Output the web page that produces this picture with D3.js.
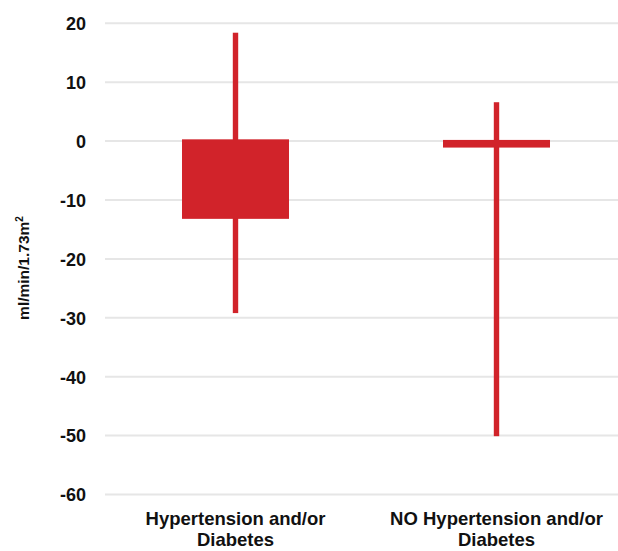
<!DOCTYPE html>
<html>
<head>
<meta charset="utf-8">
<script src="https://cdn.jsdelivr.net/npm/d3@7"></script>
<style>
  html, body { margin: 0; padding: 0; background: #fff; }
  svg { display: block; }
  text { font-family: "Liberation Sans", Arial, sans-serif; font-weight: bold; fill: #111; }
</style>
</head>
<body>
<svg id="chart" width="618" height="551"></svg>
<script>
const categories = [["Hypertension and/or", "Diabetes"], ["NO Hypertension and/or", "Diabetes"]];
const boxTop = [0.3, 0.2];
const boxBottom = [-13.2, -1.1];
const whiskerHigh = [18.4, 6.6];
const whiskerLow = [-29.2, -50.1];
const yTicks = [20, 10, 0, -10, -20, -30, -40, -50, -60];

const svg = d3.select("#chart");
const keys = categories.map((c, i) => i);

const y = d3.scaleLinear().domain([-60, 20]).range([494.5, 23.3]);
const x = d3.scaleBand().domain(keys).range([105, 627]).paddingInner(0).paddingOuter(0);
const boxW = x.bandwidth() * 0.41;
const red = "#d1232a";

// gridlines
svg.append("g").selectAll("line").data(yTicks).join("line")
  .attr("x1", 105).attr("x2", 618)
  .attr("y1", d => y(d)).attr("y2", d => y(d))
  .attr("stroke", "#e6e6e6").attr("stroke-width", 2);

// y axis labels
const yAxis = d3.axisLeft(y).tickValues(yTicks).tickSize(0).tickPadding(0).tickFormat(d => String(d));
const gy = svg.append("g").attr("transform", "translate(86,0)").call(yAxis);
gy.select(".domain").remove();
gy.selectAll("text").style("font-size", "18px").style("font-family", "'Liberation Sans', Arial, sans-serif")
  .style("font-weight", "bold").attr("fill", "#111").attr("dy", "0.35em");

// whiskers
svg.append("g").selectAll("rect").data(keys).join("rect")
  .attr("x", i => x(i) + x.bandwidth() / 2 - 2.7)
  .attr("width", 5.4)
  .attr("y", i => y(whiskerHigh[i]))
  .attr("height", i => y(whiskerLow[i]) - y(whiskerHigh[i]))
  .attr("fill", red);

// boxes
svg.append("g").selectAll("rect").data(keys).join("rect")
  .attr("x", i => x(i) + x.bandwidth() / 2 - boxW / 2)
  .attr("width", boxW)
  .attr("y", i => y(boxTop[i]))
  .attr("height", i => y(boxBottom[i]) - y(boxTop[i]))
  .attr("fill", red);

// x labels
const xl = svg.append("g").selectAll("text").data(keys).join("text")
  .attr("text-anchor", "middle")
  .attr("x", i => x(i) + x.bandwidth() / 2)
  .attr("y", 525)
  .style("font-size", "18.5px");
xl.each(function(i) {
  const t = d3.select(this);
  categories[i].forEach((line, k) => {
    t.append("tspan").attr("x", x(i) + x.bandwidth() / 2).attr("dy", k === 0 ? 0 : 21).text(line);
  });
});

// y title
const yt = svg.append("text")
  .attr("transform", "translate(29,268) rotate(-90)")
  .attr("text-anchor", "middle")
  .style("font-size", "15.5px");
yt.append("tspan").text("ml/min/1.73m");
yt.append("tspan").attr("dy", -6).style("font-size", "10px").text("2");
</script>
</body>
</html>
